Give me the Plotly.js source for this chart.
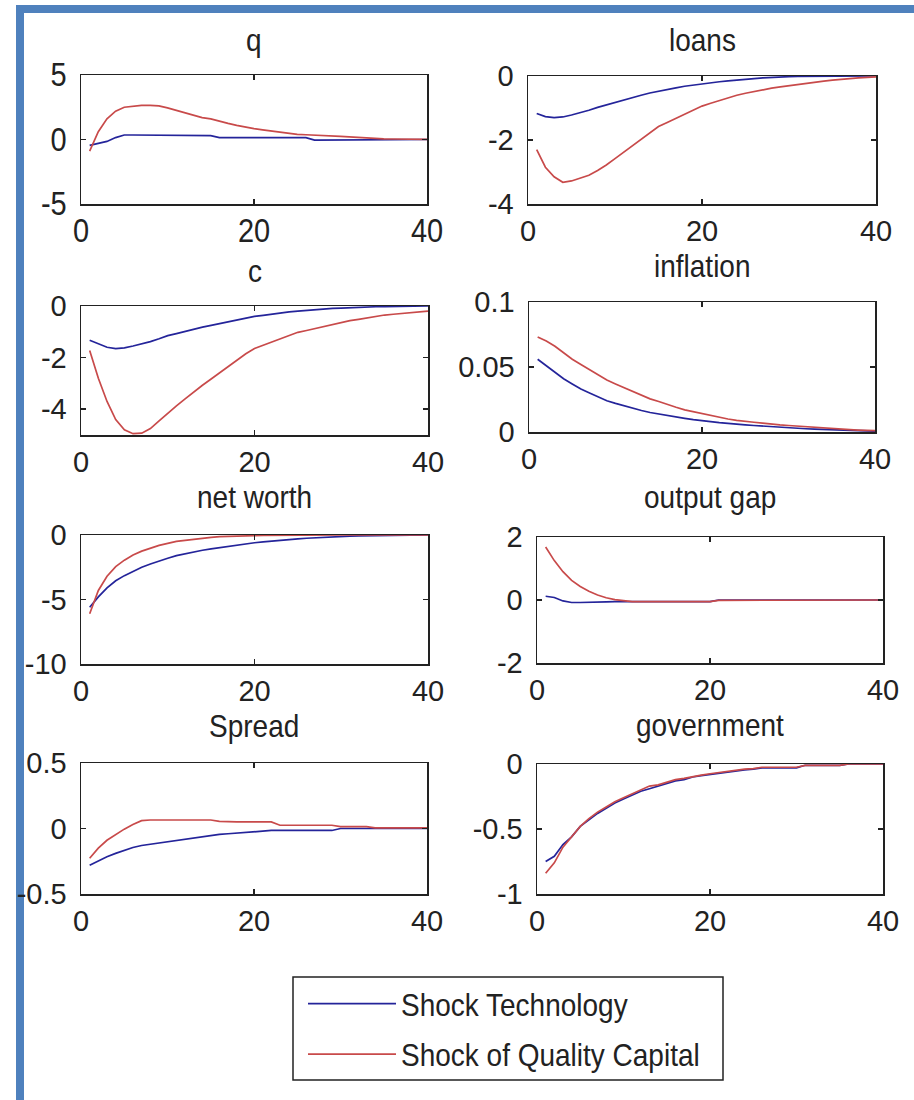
<!DOCTYPE html>
<html><head><meta charset="utf-8">
<script src="https://cdn.plot.ly/plotly-3.0.1.min.js"></script>
<style>html,body{margin:0;padding:0;background:#fff}#chart{width:914px;height:1100px}</style>
</head><body><div id="chart"></div>
<script>
// ---------------- data ----------------
const periods = [1,2,3,4,5,6,7,8,9,10,11,12,13,14,15,16,17,18,19,20,21,22,23,24,25,26,27,28,29,30,31,32,33,34,35,36,37,38,39,40];
const panelTitles = ['q','loans','c','inflation','net worth','output gap','Spread','government'];
const seriesNames = ['Shock Technology','Shock of Quality Capital'];
const xTickVals = [0,20,40];
const xTickText = ['0','20','40'];

const q_tech = [-0.45,-0.3,-0.15,0.15,0.35,0.35,0.35,0.35,0.35,0.35,0.35,0.35,0.35,0.35,0.3,0.15,0.15,0.15,0.15,0.15,0.15,0.15,0.15,0.15,0.15,0.15,-0.05,-0.05,-0.05,-0.05,-0.05,0,0,0,0,0,0,0,0,0];
const q_quality = [-0.9,0.6,1.6,2.2,2.5,2.6,2.65,2.65,2.6,2.45,2.25,2.05,1.85,1.7,1.6,1.4,1.25,1.1,0.95,0.85,0.75,0.65,0.55,0.47,0.4,0.37,0.35,0.32,0.28,0.24,0.2,0.15,0.1,0.07,0.05,0.04,0.03,0.02,0.01,0.01];

const loans_tech = [-1.17,-1.27,-1.3,-1.28,-1.22,-1.15,-1.07,-0.98,-0.9,-0.82,-0.74,-0.67,-0.6,-0.53,-0.47,-0.42,-0.37,-0.32,-0.28,-0.24,-0.21,-0.18,-0.15,-0.12,-0.1,-0.08,-0.06,-0.04,-0.03,-0.02,-0.01,-0.01,-0.01,0,0,0,0,0,0,0];
const loans_quality = [-2.3,-2.85,-3.15,-3.32,-3.28,-3.2,-3.1,-2.95,-2.78,-2.58,-2.38,-2.17,-1.97,-1.77,-1.58,-1.45,-1.32,-1.18,-1.05,-0.94,-0.85,-0.76,-0.68,-0.6,-0.54,-0.48,-0.43,-0.38,-0.34,-0.3,-0.26,-0.22,-0.19,-0.16,-0.13,-0.1,-0.08,-0.06,-0.04,-0.03];

const c_tech = [-1.33,-1.45,-1.6,-1.65,-1.62,-1.55,-1.47,-1.38,-1.27,-1.15,-1.07,-0.98,-0.9,-0.82,-0.75,-0.68,-0.6,-0.53,-0.46,-0.4,-0.36,-0.31,-0.27,-0.23,-0.2,-0.17,-0.14,-0.11,-0.09,-0.08,-0.06,-0.05,-0.04,-0.03,-0.03,-0.02,-0.02,-0.01,-0.01,0];
const c_quality = [-1.72,-2.8,-3.7,-4.4,-4.8,-4.95,-4.93,-4.75,-4.45,-4.15,-3.87,-3.6,-3.33,-3.07,-2.83,-2.58,-2.33,-2.1,-1.85,-1.65,-1.52,-1.4,-1.28,-1.15,-1.02,-0.95,-0.87,-0.79,-0.7,-0.62,-0.57,-0.52,-0.46,-0.4,-0.35,-0.32,-0.29,-0.25,-0.22,-0.2];

const infl_tech = [0.056,0.051,0.046,0.041,0.037,0.033,0.03,0.027,0.024,0.022,0.02,0.018,0.0165,0.015,0.0138,0.0125,0.0115,0.0105,0.0095,0.009,0.008,0.0072,0.0065,0.006,0.0055,0.005,0.0045,0.004,0.0035,0.003,0.0028,0.0025,0.0022,0.002,0.0015,0.0013,0.0011,0.001,0.0008,0.0006];
const infl_quality = [0.073,0.07,0.066,0.061,0.056,0.052,0.048,0.044,0.04,0.037,0.034,0.031,0.028,0.0255,0.0235,0.021,0.019,0.017,0.0155,0.014,0.0125,0.011,0.01,0.009,0.0085,0.0075,0.0068,0.006,0.0055,0.005,0.0045,0.004,0.0035,0.003,0.0025,0.0022,0.002,0.0015,0.0012,0.001];

const nw_tech = [-5.6,-4.8,-4.1,-3.55,-3.15,-2.8,-2.5,-2.25,-2.0,-1.8,-1.6,-1.45,-1.3,-1.18,-1.07,-0.97,-0.87,-0.78,-0.7,-0.6,-0.53,-0.46,-0.4,-0.35,-0.3,-0.25,-0.21,-0.17,-0.14,-0.11,-0.09,-0.07,-0.05,-0.04,-0.03,-0.02,-0.02,-0.01,-0.01,0];
const nw_quality = [-6.1,-4.3,-3.2,-2.45,-1.95,-1.55,-1.25,-1.0,-0.8,-0.65,-0.5,-0.42,-0.33,-0.25,-0.18,-0.13,-0.1,-0.08,-0.06,-0.05,-0.04,-0.03,-0.02,-0.02,-0.01,-0.01,0,0,0,0,0,0,0,0,0,0,0,0,0,0];

const gap_tech = [0.12,0.08,-0.03,-0.08,-0.08,-0.08,-0.07,-0.06,-0.05,-0.05,-0.05,-0.05,-0.05,-0.05,-0.05,-0.05,-0.05,-0.05,-0.05,-0.05,0,0,0,0,0,0,0,0,0,0,0,0,0,0,0,0,0,0,0,0];
const gap_quality = [1.68,1.25,0.9,0.62,0.43,0.28,0.16,0.07,0.01,-0.03,-0.05,-0.05,-0.05,-0.05,-0.05,-0.05,-0.05,-0.05,-0.05,-0.05,-0.01,-0.01,-0.01,-0.01,0,0,0,0,0,0,0,0,0,0,0,0,0,0,0,0];

const spread_tech = [-0.28,-0.245,-0.215,-0.19,-0.165,-0.145,-0.13,-0.12,-0.11,-0.1,-0.09,-0.08,-0.07,-0.06,-0.055,-0.045,-0.04,-0.035,-0.025,-0.02,-0.015,-0.015,-0.015,-0.015,-0.015,-0.015,-0.015,-0.015,-0.015,0,0,0,0,0,0,0,0,0,0,0];
const spread_quality = [-0.227,-0.15,-0.09,-0.045,-0.005,0.03,0.06,0.065,0.065,0.065,0.065,0.065,0.065,0.065,0.065,0.055,0.05,0.05,0.05,0.05,0.05,0.05,0.025,0.025,0.025,0.025,0.025,0.025,0.025,0.015,0.015,0.015,0.015,0.005,0.005,0.005,0.005,0.005,0.005,0.005];

const gov_tech = [-0.75,-0.71,-0.62,-0.56,-0.48,-0.43,-0.38,-0.34,-0.3,-0.27,-0.24,-0.21,-0.19,-0.17,-0.15,-0.13,-0.12,-0.1,-0.09,-0.08,-0.07,-0.06,-0.05,-0.045,-0.04,-0.03,-0.03,-0.03,-0.03,-0.03,-0.01,-0.01,-0.01,-0.01,-0.01,0,0,0,0,0];
const gov_quality = [-0.84,-0.76,-0.64,-0.56,-0.48,-0.42,-0.37,-0.33,-0.29,-0.26,-0.23,-0.2,-0.17,-0.16,-0.14,-0.12,-0.11,-0.095,-0.085,-0.075,-0.065,-0.055,-0.045,-0.04,-0.035,-0.025,-0.025,-0.025,-0.025,-0.025,-0.01,-0.01,-0.01,-0.01,-0.01,0,0,0,0,0];

const techSeries = [q_tech, loans_tech, c_tech, infl_tech, nw_tech, gap_tech, spread_tech, gov_tech];
const qualitySeries = [q_quality, loans_quality, c_quality, infl_quality, nw_quality, gap_quality, spread_quality, gov_quality];

const yTickVals = [[-5,0,5],[-4,-2,0],[-4,-2,0],[0,0.05,0.1],[-10,-5,0],[-2,0,2],[-0.5,0,0.5],[-1,-0.5,0]];
const yTickText = [['-5','0','5'],['-4','-2','0'],['-4','-2','0'],['0','0.05','0.1'],['-10','-5','0'],['-2','0','2'],['-0.5','0','0.5'],['-1','-0.5','0']];
const yRanges = [[-5,5],[-4,0],[-5,0],[0,0.1],[-10,0],[-2,2],[-0.5,0.5],[-1,0]];

// ---------------- layout (pixels) ----------------
const W = 914, H = 1100;
const boxes = [[81,427,75,204],[528,876,76,204],[81,428,306,435],[529,875,302,432],[81,428,535,664],[537,883,537,663],[81,427,763,894],[537,883,764,894]];
const titleY = [41,40,271,267,497,497,726,725];
const FONT = '"Liberation Sans",Arial,Helvetica,sans-serif';
const BLUE = '#24249a', RED = '#c84a4a', INK = '#222';

const traces = [];
const layout = {
  width: W, height: H,
  margin: {l:0, r:0, t:0, b:0},
  paper_bgcolor: '#fff', plot_bgcolor: '#fff',
  font: {family: FONT, size: 29, color: INK},
  showlegend: true,
  legend: {
    x: 303/W, y: 1 - 979/H, xanchor: 'left', yanchor: 'top',
    borderwidth: 0, bgcolor: 'rgba(0,0,0,0)',
    font: {family: FONT, size: 28, color: INK},
    traceorder: 'grouped', tracegroupgap: 11, itemwidth: 88
  },
  annotations: [], shapes: []
};

boxes.forEach((b, i) => {
  const s = i === 0 ? '' : String(i + 1);
  layout['xaxis' + s] = {
    domain: [b[0]/W, b[1]/W], range: [0, 40], anchor: 'y' + s,
    tickvals: xTickVals, ticktext: xTickText,
    ticks: 'inside', ticklen: 5, tickwidth: 1.5, tickcolor: INK,
    showline: true, linecolor: INK, linewidth: 1.5, mirror: 'ticks',
    showgrid: false, zeroline: false, ticklabelstandoff: 1,
    tickfont: {family: FONT, size: 29, color: INK}
  };
  layout['yaxis' + s] = {
    domain: [1 - b[3]/H, 1 - b[2]/H], range: yRanges[i], anchor: 'x' + s,
    tickvals: yTickVals[i], ticktext: yTickText[i],
    ticks: 'inside', ticklen: 5, tickwidth: 1.5, tickcolor: INK,
    showline: true, linecolor: INK, linewidth: 1.5, mirror: 'ticks',
    showgrid: false, zeroline: false, ticklabelstandoff: 7,
    tickfont: {family: FONT, size: 29, color: INK}
  };
  layout.annotations.push({
    text: panelTitles[i], xref: 'paper', yref: 'paper',
    x: (b[0] + b[1]) / 2 / W, y: 1 - titleY[i] / H,
    xanchor: 'center', yanchor: 'middle', showarrow: false, borderpad: 0,
    font: {family: FONT, size: 28, color: INK}
  });
  traces.push({
    x: periods, y: techSeries[i], xaxis: 'x' + s, yaxis: 'y' + s,
    type: 'scatter', mode: 'lines', name: seriesNames[0],
    line: {color: BLUE, width: 1.7}, legendgroup: 'tech', showlegend: i === 0
  });
  traces.push({
    x: periods, y: qualitySeries[i], xaxis: 'x' + s, yaxis: 'y' + s,
    type: 'scatter', mode: 'lines', name: seriesNames[1],
    line: {color: RED, width: 1.7}, legendgroup: 'quality', showlegend: i === 0
  });
});

// page frame (blue border on left and top)
layout.shapes.push({type:'rect', xref:'paper', yref:'paper', x0:16/W, x1:24/W, y0:0, y1:1-5/H, fillcolor:'#4F81BD', line:{width:0}, layer:'below'});
layout.shapes.push({type:'rect', xref:'paper', yref:'paper', x0:16/W, x1:1, y0:1-13/H, y1:1-5/H, fillcolor:'#4F81BD', line:{width:0}, layer:'below'});
// legend frame
layout.shapes.push({type:'rect', xref:'paper', yref:'paper', x0:293/W, x1:723/W, y0:1-1080/H, y1:1-977/H, fillcolor:'rgba(0,0,0,0)', line:{color:INK, width:1.5}, layer:'below'});

Plotly.newPlot('chart', traces, layout, {staticPlot: true, displayModeBar: false}).then(gd => {
  // the reference glyphs are slightly taller than wide: stretch text vertically around its centre
  gd.querySelectorAll('.xtick text, .ytick text, .annotation-text, .legendtext').forEach(el => {
    const bb = el.getBBox();
    const cy = bb.y + bb.height / 2;
    const t = el.getAttribute('transform') || '';
    el.setAttribute('transform', t + ' translate(0,' + cy + ') scale(1,1.12) translate(0,' + (-cy) + ')');
  });
});
</script></body></html>
